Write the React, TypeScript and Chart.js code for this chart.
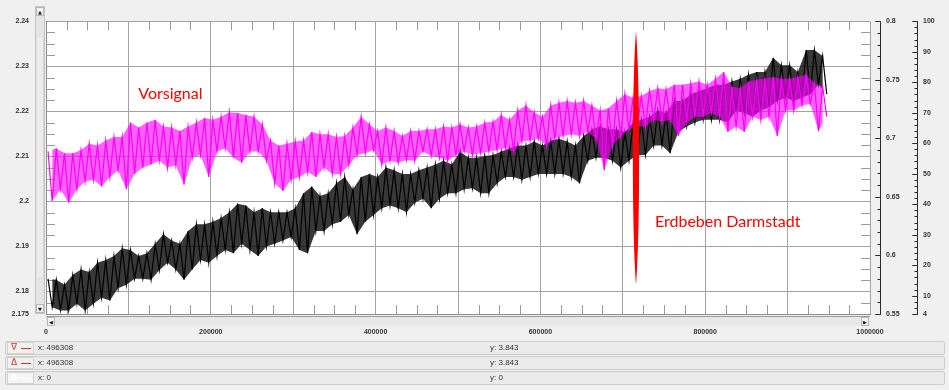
import React, { useEffect, useRef } from "react";
import { Chart, registerables } from "chart.js";

Chart.register(...registerables);

// ---- data ----
// sample buckets of 10000 along x; for each bucket the upper and lower excursion of each trace
const BUCKET_WIDTH = 10000;
const MAGENTA_HIGH = [
  2.2111, 2.2118, 2.2107, 2.2107, 2.2114, 2.2128, 2.2124, 2.2135, 2.2143, 2.2143,
  2.2175, 2.2164, 2.2175, 2.2181, 2.2166, 2.2164, 2.2156, 2.2166, 2.2175, 2.2185,
  2.2181, 2.2188, 2.2198, 2.2196, 2.2192, 2.2188, 2.2171, 2.2135, 2.2124, 2.2128,
  2.2133, 2.2135, 2.2154, 2.2149, 2.2149, 2.2143, 2.2145, 2.2164, 2.2188, 2.2171,
  2.2156, 2.2164, 2.2156, 2.2145, 2.2156, 2.2156, 2.2160, 2.2160, 2.2166, 2.2164,
  2.2171, 2.2164, 2.2166, 2.2175, 2.2177, 2.2192, 2.2181, 2.2202, 2.2213, 2.2198,
  2.2188, 2.2213, 2.2219, 2.2223, 2.2219, 2.2223, 2.2213, 2.2202, 2.2207, 2.2223,
  2.2238, 2.2230, 2.2234, 2.2245, 2.2251, 2.2249, 2.2259, 2.2259, 2.2262, 2.2266,
  2.2259, 2.2272, 2.2287, 2.2255, 2.2251, 2.2266, 2.2270, 2.2272, 2.2276, 2.2272,
  2.2272, 2.2276, 2.2281, 2.2262, 2.2255,
];
const MAGENTA_LOW = [
  2.2001, 2.2027, 2.1997, 2.2027, 2.2044, 2.2048, 2.2033, 2.2054, 2.2069, 2.2027,
  2.2061, 2.2075, 2.2082, 2.2090, 2.2075, 2.2080, 2.2037, 2.2097, 2.2103, 2.2054,
  2.2111, 2.2118, 2.2097, 2.2086, 2.2111, 2.2111, 2.2090, 2.2040, 2.2023, 2.2048,
  2.2054, 2.2065, 2.2054, 2.2075, 2.2061, 2.2061, 2.2080, 2.2103, 2.2107, 2.2114,
  2.2082, 2.2090, 2.2086, 2.2092, 2.2090, 2.2111, 2.2101, 2.2097, 2.2090, 2.2103,
  2.2111, 2.2103, 2.2107, 2.2111, 2.2114, 2.2118, 2.2111, 2.2133, 2.2135, 2.2139,
  2.2124, 2.2139, 2.2145, 2.2149, 2.2145, 2.2154, 2.2139, 2.2069, 2.2124, 2.2145,
  2.2160, 2.2166, 2.2166, 2.2181, 2.2177, 2.2181, 2.2145, 2.2175, 2.2188, 2.2188,
  2.2196, 2.2188, 2.2154, 2.2166, 2.2154, 2.2188, 2.2181, 2.2188, 2.2145, 2.2202,
  2.2202, 2.2213, 2.2217, 2.2156, 2.2188,
];
const BLACK_HIGH = [
  2.1828, 2.1826, 2.1815, 2.1837, 2.1849, 2.1843, 2.1864, 2.1870, 2.1879, 2.1896,
  2.1892, 2.1879, 2.1885, 2.1906, 2.1927, 2.1913, 2.1906, 2.1934, 2.1949, 2.1949,
  2.1955, 2.1963, 2.1976, 2.1995, 2.1991, 2.1976, 2.1985, 2.1976, 2.1976, 2.1976,
  2.1985, 2.2018, 2.2033, 2.2012, 2.2018, 2.2040, 2.2054, 2.2027, 2.2054, 2.2061,
  2.2054, 2.2075, 2.2069, 2.2061, 2.2061, 2.2069, 2.2075, 2.2082, 2.2090, 2.2082,
  2.2111, 2.2097, 2.2097, 2.2101, 2.2103, 2.2111, 2.2118, 2.2124, 2.2124, 2.2133,
  2.2124, 2.2135, 2.2139, 2.2133, 2.2124, 2.2145, 2.2160, 2.2166, 2.2160, 2.2160,
  2.2154, 2.2175, 2.2181, 2.2188, 2.2202, 2.2196, 2.2223, 2.2223, 2.2238, 2.2245,
  2.2251, 2.2259, 2.2259, 2.2266, 2.2272, 2.2281, 2.2287, 2.2287, 2.2319, 2.2302,
  2.2302, 2.2287, 2.2336, 2.2336, 2.2323,
];
const BLACK_LOW = [
  2.1765, 2.1758, 2.1758, 2.1773, 2.1758, 2.1773, 2.1786, 2.1780, 2.1807, 2.1815,
  2.1828, 2.1828, 2.1826, 2.1847, 2.1864, 2.1849, 2.1826, 2.1849, 2.1870, 2.1864,
  2.1879, 2.1892, 2.1885, 2.1906, 2.1892, 2.1879, 2.1900, 2.1906, 2.1913, 2.1921,
  2.1892, 2.1885, 2.1934, 2.1934, 2.1949, 2.1955, 2.1970, 2.1927, 2.1955, 2.1970,
  2.1985, 2.1991, 2.1985, 2.1976, 2.1997, 2.2006, 2.1985, 2.2006, 2.2018, 2.2018,
  2.2027, 2.2029, 2.2018, 2.2018, 2.2040, 2.2054, 2.2054, 2.2048, 2.2054, 2.2061,
  2.2061, 2.2061, 2.2061, 2.2054, 2.2040, 2.2090, 2.2097, 2.2097, 2.2090, 2.2075,
  2.2090, 2.2103, 2.2103, 2.2124, 2.2124, 2.2107, 2.2154, 2.2166, 2.2175, 2.2181,
  2.2181, 2.2181, 2.2175, 2.2202, 2.2196, 2.2188, 2.2202, 2.2209, 2.2223, 2.2230,
  2.2223, 2.2230, 2.2238, 2.2259, 2.2238,
];

// axes
const X_MIN = 0;
const X_MAX = 1000000;
const X_TICK_VALUES = [0, 100000, 200000, 300000, 400000, 500000, 600000, 700000, 800000, 900000, 1000000];
const X_TICK_LABELS = ["0", "", "200000", "", "400000", "", "600000", "", "800000", "", "1000000"];
const X_MINOR_STEP = 25000;
const Y_MIN = 2.175;
const Y_MAX = 2.24;
const Y_TICK_VALUES = [2.175, 2.18, 2.19, 2.2, 2.21, 2.22, 2.23, 2.24];
const Y_TICK_LABELS = ["2.175", "2.18", "2.19", "2.2", "2.21", "2.22", "2.23", "2.24"];
const Y_MINOR_STEP = 0.0025;

const R1_MIN = 0.55;
const R1_MAX = 0.8;
const R1_MAJOR = [0.55, 0.6, 0.65, 0.7, 0.75, 0.8];
const R1_LABELS = ["0.55", "0.6", "0.65", "0.7", "0.75", "0.8"];
const R1_MINOR_STEP = 0.01;
const R2_MIN = 4;
const R2_MAX = 100;
const R2_MAJOR = [4, 10, 20, 30, 40, 50, 60, 70, 80, 90, 100];
const R2_LABELS = ["4", "10", "20", "30", "40", "50", "60", "70", "80", "90", "100"];
const R2_MINOR_STEP = 2;

// annotations
const NOTE_PRE = { text: "Vorsignal", x: 112000, y: 2.2238 };
const NOTE_QUAKE = { text: "Erdbeben Darmstadt", x: 739000, y: 2.1955 };
const QUAKE_X = 716000;
const QUAKE_TOP = 2.2378;
const QUAKE_BOTTOM = 2.1815;
const QUAKE_HALF_WIDTH = 3800;

// status rows
const STATUS_ICONS = ["∇", "Δ", "Δ"];
const STATUS_X = ["496308", "496308", "0"];
const STATUS_Y = ["3.843", "3.843", "0"];

const AXIS_FONT = "'Liberation Sans', Arial, sans-serif";

const HIGH_POS = 0.25;
const LOW_POS = 0.75;

// zig-zag through the read excursions (upper, lower, upper, ...)
function zigzag(high: number[], low: number[]) {
  const pts: { x: number; y: number }[] = [];
  for (let i = 0; i < high.length; i++) {
    pts.push({ x: (i + HIGH_POS) * BUCKET_WIDTH, y: high[i] });
    pts.push({ x: (i + LOW_POS) * BUCKET_WIDTH, y: low[i] });
  }
  return pts;
}
// envelope edge through the same read excursions
function edge(values: number[], pos: number) {
  return values.map((v, i) => ({ x: (i + pos) * BUCKET_WIDTH, y: v }));
}

function range(min: number, max: number, step: number) {
  const out: number[] = [];
  const n = Math.round((max - min) / step);
  for (let i = 0; i <= n; i++) out.push(+(min + i * step).toFixed(6));
  return out;
}

const decorPlugin = {
  id: "decor",
  beforeDraw(chart: any) {
    const { ctx, chartArea: a } = chart;
    ctx.save();
    ctx.fillStyle = "#ffffff";
    ctx.fillRect(a.left, a.top, a.right - a.left, a.bottom - a.top);
    ctx.restore();
  },
  beforeDatasetsDraw(chart: any) {
    const { ctx, chartArea: a, scales } = chart;
    const xs = scales.x;
    const ys = scales.y;
    ctx.save();
    ctx.strokeStyle = "#9c9c9c";
    ctx.lineWidth = 1;
    ctx.beginPath();
    for (const v of range(X_MIN, X_MAX, X_MINOR_STEP)) {
      if (X_TICK_VALUES.includes(v)) continue;
      const px = Math.round(xs.getPixelForValue(v)) + 0.5;
      ctx.moveTo(px, a.top);
      ctx.lineTo(px, a.top + 9);
      ctx.moveTo(px, a.bottom);
      ctx.lineTo(px, a.bottom - 9);
    }
    for (const v of range(Y_MIN, Y_MAX, Y_MINOR_STEP)) {
      if (Y_TICK_VALUES.some((t) => Math.abs(t - v) < 1e-6)) continue;
      const py = Math.round(ys.getPixelForValue(v)) + 0.5;
      ctx.moveTo(a.left, py);
      ctx.lineTo(a.left + 9, py);
      ctx.moveTo(a.right, py);
      ctx.lineTo(a.right - 9, py);
    }
    ctx.stroke();
    ctx.restore();
  },
  afterDatasetsDraw(chart: any) {
    const { ctx, scales } = chart;
    const xs = scales.x;
    const ys = scales.y;
    ctx.save();
    // red lens marking the earthquake
    const cx = xs.getPixelForValue(QUAKE_X);
    const yt = ys.getPixelForValue(QUAKE_TOP);
    const yb = ys.getPixelForValue(QUAKE_BOTTOM);
    const hw = xs.getPixelForValue(QUAKE_X + QUAKE_HALF_WIDTH) - cx;
    const c = hw / 0.75;
    const h = yb - yt;
    ctx.fillStyle = "#ff0000";
    ctx.beginPath();
    ctx.moveTo(cx, yt);
    ctx.bezierCurveTo(cx + c, yt + h * 0.2, cx + c, yb - h * 0.2, cx, yb);
    ctx.bezierCurveTo(cx - c, yb - h * 0.2, cx - c, yt + h * 0.2, cx, yt);
    ctx.closePath();
    ctx.fill();
    // notes
    ctx.font = "16px Lato, 'Open Sans', sans-serif";
    ctx.textBaseline = "middle";
    ctx.textAlign = "left";
    for (const n of [NOTE_PRE, NOTE_QUAKE]) {
      ctx.fillText(n.text, xs.getPixelForValue(n.x), ys.getPixelForValue(n.y));
    }
    ctx.restore();
  },
  afterDraw(chart: any) {
    const { ctx, scales } = chart;
    const drawAxis = (scale: any, xLine: number, majors: number[], labels: string[], min: number, max: number, step: number) => {
      ctx.save();
      ctx.strokeStyle = "#2a2a2a";
      ctx.lineWidth = 1;
      ctx.beginPath();
      const xl = xLine + 0.5;
      ctx.moveTo(xl, Math.round(scale.getPixelForValue(max)) + 0.5);
      ctx.lineTo(xl, Math.round(scale.getPixelForValue(min)) + 0.5);
      for (const v of range(min, max, step)) {
        const py = Math.round(scale.getPixelForValue(v)) + 0.5;
        const major = majors.some((m) => Math.abs(m - v) < 1e-6);
        ctx.moveTo(xl - (major ? 5 : 3), py);
        ctx.lineTo(xl, py);
      }
      for (const m of majors) {
        const py = Math.round(scale.getPixelForValue(m)) + 0.5;
        ctx.moveTo(xl - 5, py);
        ctx.lineTo(xl, py);
      }
      ctx.stroke();
      ctx.fillStyle = "#333";
      ctx.font = `bold 7px ${AXIS_FONT}`;
      ctx.textBaseline = "middle";
      ctx.textAlign = "left";
      majors.forEach((m, i) => {
        ctx.fillText(labels[i], xLine + 6, scale.getPixelForValue(m));
      });
      ctx.restore();
    };
    drawAxis(scales.y2, 880, R1_MAJOR, R1_LABELS, R1_MIN, R1_MAX, R1_MINOR_STEP);
    drawAxis(scales.y3, 917, R2_MAJOR, R2_LABELS, R2_MIN, R2_MAX, R2_MINOR_STEP);
  },
};

const lineBase = { pointRadius: 0, tension: 0, yAxisID: "y" };

function ChartPanel() {
  const ref = useRef<HTMLCanvasElement | null>(null);
  useEffect(() => {
    if (!ref.current) return;
    const chart = new Chart(ref.current, {
      type: "line",
      data: {
        datasets: [
          { ...lineBase, label: "Vorsignal", data: zigzag(MAGENTA_HIGH, MAGENTA_LOW), borderColor: "#ff00ff", borderWidth: 1.2, fill: false },
          { ...lineBase, label: "Vorsignal max", data: edge(MAGENTA_HIGH, HIGH_POS), borderWidth: 0, borderColor: "rgba(0,0,0,0)", fill: false },
          { ...lineBase, label: "Vorsignal min", data: edge(MAGENTA_LOW, LOW_POS), borderWidth: 0, borderColor: "rgba(0,0,0,0)", fill: "-1", backgroundColor: "rgba(255,0,255,0.62)" },
          { ...lineBase, label: "Signal", data: zigzag(BLACK_HIGH, BLACK_LOW), borderColor: "#000000", borderWidth: 1.2, fill: false },
          { ...lineBase, label: "Signal max", data: edge(BLACK_HIGH, HIGH_POS), borderWidth: 0, borderColor: "rgba(0,0,0,0)", fill: false },
          { ...lineBase, label: "Signal min", data: edge(BLACK_LOW, LOW_POS), borderWidth: 0, borderColor: "rgba(0,0,0,0)", fill: "-1", backgroundColor: "rgba(0,0,0,0.78)" },
        ],
      },
      options: {
        animation: false,
        responsive: false,
        devicePixelRatio: 1,
        layout: { padding: { top: 6, right: 79, left: 0, bottom: 0 } },
        plugins: { legend: { display: false }, tooltip: { enabled: false } },
        scales: {
          x: {
            type: "linear",
            min: X_MIN,
            max: X_MAX,
            afterBuildTicks: (s: any) => {
              s.ticks = X_TICK_VALUES.map((v) => ({ value: v }));
            },
            afterFit: (s: any) => {
              s.height = 26;
            },
            ticks: {
              autoSkip: false,
              maxRotation: 0,
              padding: 14,
              color: "#333",
              font: { family: AXIS_FONT, size: 7, weight: "bold" },
              callback: (_v: any, i: number) => X_TICK_LABELS[i],
            },
            grid: { color: "#a3a3a3", drawTicks: false, lineWidth: 1 },
            border: { display: true, color: "#8c8c8c" },
          },
          y: {
            type: "linear",
            position: "left",
            min: Y_MIN,
            max: Y_MAX,
            afterBuildTicks: (s: any) => {
              s.ticks = Y_TICK_VALUES.map((v) => ({ value: v }));
            },
            afterFit: (s: any) => {
              s.width = 46;
            },
            ticks: {
              autoSkip: false,
              padding: 17,
              color: "#333",
              font: { family: AXIS_FONT, size: 7, weight: "bold" },
              callback: (_v: any, i: number) => Y_TICK_LABELS[i],
            },
            grid: { color: "#a3a3a3", drawTicks: false, lineWidth: 1 },
            border: { display: true, color: "#8c8c8c" },
          },
          y2: { type: "linear", position: "right", min: R1_MIN, max: R1_MAX, display: false },
          y3: { type: "linear", position: "right", min: R2_MIN, max: R2_MAX, display: false },
        },
      },
      plugins: [decorPlugin],
    } as any);
    return () => chart.destroy();
  }, []);
  return <canvas ref={ref} width={949} height={340} style={{ position: "absolute", left: 0, top: 0 }} />;
}

const arrowStyle: React.CSSProperties = {
  position: "absolute",
  fontSize: 5,
  lineHeight: "8px",
  textAlign: "center",
  color: "#111",
  background: "#f4f4f4",
  border: "1px solid #b8b8b8",
  boxSizing: "border-box",
  fontFamily: "DejaVu Sans, sans-serif",
};

export default function App() {
  return (
    <div
      style={{
        position: "fixed",
        left: 0,
        top: 0,
        width: 949,
        height: 390,
        background: "#f0f0f0",
        overflow: "hidden",
        fontFamily: AXIS_FONT,
      }}
    >
      <ChartPanel />
      {/* vertical scrollbar */}
      <div style={{ position: "absolute", left: 35, top: 6, width: 10, height: 308, background: "#e4e4e4", border: "1px solid #c4c4c4", boxSizing: "border-box" }}>
        <div style={{ position: "absolute", left: 1, top: 30, width: 6, height: 240, background: "#ececec", borderRight: "1px solid #d6d6d6" }} />
        <div style={{ ...arrowStyle, left: 0, top: 0, width: 8, height: 9 }}>▲</div>
        <div style={{ ...arrowStyle, left: 0, bottom: 0, width: 8, height: 9 }}>▼</div>
      </div>
      {/* horizontal scrollbar */}
      <div style={{ position: "absolute", left: 46, top: 316, width: 824, height: 10, background: "#e8e8e8", borderTop: "1px solid #9a9a9a", boxSizing: "border-box" }}>
        <div style={{ ...arrowStyle, left: 1, top: 0, width: 8, height: 9 }}>◀</div>
        <div style={{ ...arrowStyle, right: 1, top: 0, width: 8, height: 9 }}>▶</div>
      </div>
      {/* status rows */}
      {STATUS_X.map((xv, i) => (
        <div
          key={i}
          style={{
            position: "absolute",
            left: 5,
            top: 341 + i * 15,
            width: 940,
            height: 14,
            border: "1px solid #cdcdcd",
            borderRadius: 2,
            background: "#ebebeb",
            boxSizing: "border-box",
          }}
        >
          <div
            style={{
              position: "absolute",
              left: 1,
              top: 0,
              width: 27,
              height: 12,
              border: "1px solid #d2d2d2",
              background: i === 2 ? "#f6f6f6" : "#f1f1f1",
              boxSizing: "border-box",
            }}
          >
            <span
              style={{
                position: "absolute",
                left: 3,
                top: -1,
                fontSize: 9,
                lineHeight: "11px",
                color: i === 2 ? "#ffffff" : "#e03030",
                fontFamily: "DejaVu Sans, sans-serif",
              }}
            >
              {STATUS_ICONS[i]}
            </span>
            <div
              style={{
                position: "absolute",
                left: 13,
                top: 5,
                width: 10,
                height: 1,
                background: i === 2 ? "#ffffff" : "#e03030",
              }}
            />
          </div>
          <span style={{ position: "absolute", left: 32, top: 0, fontSize: 8, lineHeight: "12px", color: "#333" }}>
            x: {xv}
          </span>
          <span style={{ position: "absolute", left: 484, top: 0, fontSize: 8, lineHeight: "12px", color: "#333" }}>
            y: {STATUS_Y[i]}
          </span>
        </div>
      ))}
    </div>
  );
}
